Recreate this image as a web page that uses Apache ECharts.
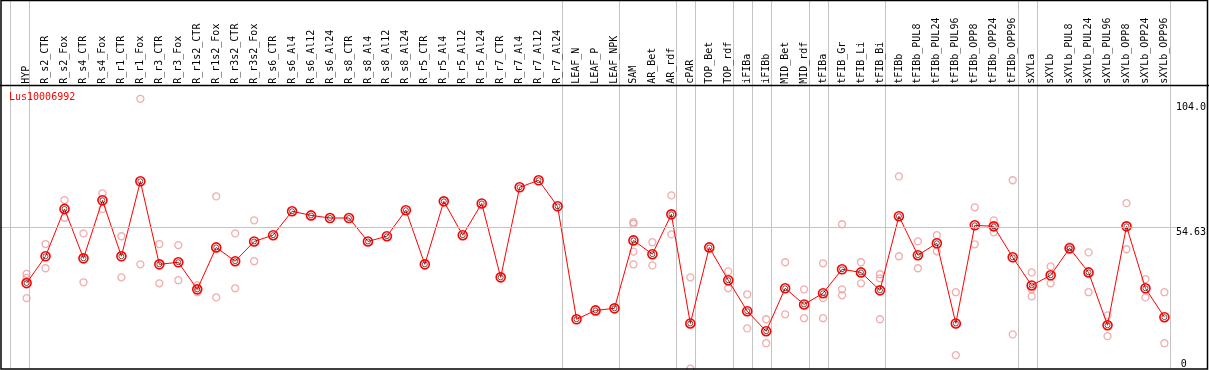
<!DOCTYPE html>
<html>
<head>
<meta charset="utf-8">
<script src="https://cdn.jsdelivr.net/npm/echarts@6/dist/echarts.min.js"></script>
<style>
html,body{margin:0;padding:0;background:#fff;}
#chart{width:1209px;height:370px;}
</style>
</head>
<body>
<div id="chart"></div>
<script>
const geneName = 'Lus10006992';
const categories = ['HYP','R_s2_CTR','R_s2_Fox','R_s4_CTR','R_s4_Fox','R_r1_CTR','R_r1_Fox','R_r3_CTR','R_r3_Fox','R_r1s2_CTR','R_r1s2_Fox','R_r3s2_CTR','R_r3s2_Fox','R_s6_CTR','R_s6_Al4','R_s6_Al12','R_s6_Al24','R_s8_CTR','R_s8_Al4','R_s8_Al12','R_s8_Al24','R_r5_CTR','R_r5_Al4','R_r5_Al12','R_r5_Al24','R_r7_CTR','R_r7_Al4','R_r7_Al12','R_r7_Al24','LEAF_N','LEAF_P','LEAF_NPK','SAM','AR_Bet','AR_rdf','cPAR','TOP_Bet','TOP_rdf','iFIBa','iFIBb','MID_Bet','MID_rdf','tFIBa','tFIB_Gr','tFIB_Li','tFIB_Bi','tFIBb','tFIBb_PUL8','tFIBb_PUL24','tFIBb_PUL96','tFIBb_OPP8','tFIBb_OPP24','tFIBb_OPP96','sXYLa','sXYLb','sXYLb_PUL8','sXYLb_PUL24','sXYLb_PUL96','sXYLb_OPP8','sXYLb_OPP24','sXYLb_OPP96'];
const meanValues = [33.2,43.5,61.7,42.7,65.0,43.5,72.3,40.4,41.2,30.8,46.9,41.6,49.2,51.6,60.8,59.2,58.2,58.2,49.2,51.2,61.2,40.4,64.6,51.6,63.8,35.4,70.0,72.7,62.7,19.3,22.7,23.5,49.6,44.3,59.6,17.7,46.9,34.3,22.4,14.7,31.2,25.0,29.3,38.5,37.3,30.4,58.9,43.9,48.5,17.7,55.4,55.0,43.1,32.3,36.2,46.6,37.3,17.0,55.0,31.2,20.1];
const replicateValues = [
  [36.7,35.2,27.4],[48.2,38.9],[65.1,58.3],[52.3,33.5],[67.7,61.7],[51.2,35.4],[104.0,40.4],[48.2,33.1],[47.8,34.3],[32.3,29.7],
  [66.5,27.7],[52.3,31.2],[57.3,41.6],[],[],[],[],[],[],[],
  [],[],[],[],[],[],[],[],[],[],
  [],[],[56.6,56.0,45.3,40.4],[48.9,40.0],[66.9,51.9],[35.4,0.3],[],[37.7,31.2],[28.9,15.8],[19.3,10.1],
  [41.2,21.2],[30.8,19.7],[40.8,27.4,19.7],[55.8,30.8,28.5],[41.2,33.1],[36.6,35.0,19.3],[74.2,43.5],[49.2,38.9],[51.6,45.4],[29.7,5.5],
  [62.3,48.1],[57.3,52.7],[72.7,13.5],[37.3,30.8,28.1],[39.6,33.1],[47.3,45.9],[45.0,29.7],[20.8,12.8],[63.9,46.2],[34.7,27.7],
  [29.7,10.1]
];
// group separators drawn just after these category indices (-1 = before the first)
const groupEndsAfter = [-1,0,28,31,34,35,37,38,39,41,42,45,52,53,60];
const yTicks = [0, 54.63, 104];
const yTickLabels = ['0', '54.63', '104.0'];
const referenceLine = 54.63;

const FONT = 'DejaVu Sans Mono';
const replicatePoints = [];
replicateValues.forEach((arr, i) => arr.forEach(v => replicatePoints.push([i, v])));

const gridLeft = 17.1, gridWidth = 1159.6, gridTop = 98.8, gridBottom = 0.5;
const band = gridWidth / categories.length;
const chart = echarts.init(document.getElementById('chart'));
const frame = [
  {type: 'rect', shape: {x: 1, y: 0.5, width: 1206.5, height: 368.5}, style: {fill: 'none', stroke: '#000', lineWidth: 1.5}, z: 100, silent: true},
  {type: 'line', shape: {x1: 0, y1: 85.5, x2: 1209, y2: 85.5}, style: {stroke: '#000', lineWidth: 1.5}, z: 100, silent: true}
];
chart.setOption({
  animation: false,
  backgroundColor: '#fff',
  title: {text: geneName, left: 4, top: 87, textStyle: {color: '#ff0000', fontSize: 10, fontWeight: 'normal', fontFamily: FONT}},
  grid: [
    {left: gridLeft, width: gridWidth, top: gridTop, bottom: gridBottom},
    {left: 0, width: gridLeft + gridWidth, top: 1, bottom: 1},
    {left: 0, width: gridLeft + gridWidth, top: gridTop, bottom: gridBottom}
  ],
  xAxis: [
    {type: 'category', gridIndex: 0, data: categories, position: 'top', offset: 13, boundaryGap: true,
     axisLine: {show: false}, axisTick: {show: false}, splitLine: {show: false},
     axisLabel: {rotate: 90, interval: 0, margin: 2, color: '#000', fontSize: 10, fontFamily: FONT}},
    {type: 'value', gridIndex: 1, min: -0.5 - gridLeft / band, max: categories.length - 0.5, show: false},
    {type: 'value', gridIndex: 2, min: 0, max: 1, show: false}
  ],
  yAxis: [
    {type: 'value', gridIndex: 0, min: 0, max: 104, position: 'right', splitLine: {show: false},
     axisLine: {show: false}, axisTick: {show: false},
     axisLabel: {customValues: yTicks.slice(1), margin: 2, verticalAlign: 'top', color: '#000', fontSize: 10, fontFamily: FONT,
       formatter: v => v === 104 ? '{d|' + yTickLabels[2] + '}' : yTickLabels[yTicks.indexOf(v)],
       rich: {d: {padding: [4, 0, 0, 0], fontSize: 10, fontFamily: FONT, color: '#000'}}}},
    {type: 'value', gridIndex: 1, min: 0, max: 1, show: false},
    {type: 'value', gridIndex: 2, min: 0, max: 104, position: 'right', splitLine: {show: false},
     axisLine: {show: false}, axisTick: {show: false},
     axisLabel: {customValues: yTicks.slice(0, 1), margin: 4, verticalAlign: 'bottom', color: '#000', fontSize: 10, fontFamily: FONT,
       formatter: v => yTickLabels[yTicks.indexOf(v)]}}
  ],
  graphic: frame,
  series: [
    {type: 'scatter', xAxisIndex: 1, yAxisIndex: 1, data: [], silent: true},
    {type: 'scatter', xAxisIndex: 2, yAxisIndex: 2, data: [], silent: true, z: 1,
     markLine: {silent: true, symbol: 'none', label: {show: false}, lineStyle: {color: '#c4c4c4', type: 'solid', width: 1},
       data: [{yAxis: referenceLine}]}},
    {type: 'scatter', xAxisIndex: 0, yAxisIndex: 0, data: replicatePoints, clip: false, z: 2,
     symbol: 'circle', symbolSize: 7,
     itemStyle: {color: 'rgba(0,0,0,0)', borderColor: '#eb9a9a', borderWidth: 1.3}},
    {type: 'line', xAxisIndex: 0, yAxisIndex: 0, data: meanValues, z: 3,
     symbol: 'circle', symbolSize: 9, showAllSymbol: true,
     lineStyle: {color: '#ff0000', width: 1},
     itemStyle: {color: 'rgba(0,0,0,0)', borderColor: '#ff0000', borderWidth: 1.6}},
    {type: 'scatter', xAxisIndex: 0, yAxisIndex: 0, data: meanValues, z: 4,
     symbol: 'circle', symbolSize: 5, silent: true,
     itemStyle: {color: 'rgba(0,0,0,0)', borderColor: '#000', borderWidth: 0.8}}
  ]
});
// group separators: positions from the overlay grid's value axis
const yTop = chart.convertToPixel({yAxisIndex: 1}, 1);
const yBot = chart.convertToPixel({yAxisIndex: 1}, 0);
const sepLines = groupEndsAfter.map(i => {
  const x = Math.round(chart.convertToPixel({xAxisIndex: 1}, i + 0.15)) + 0.5;
  return {type: 'line', shape: {x1: x, y1: yTop, x2: x, y2: yBot}, style: {stroke: '#c4c4c4', lineWidth: 1}, z: -10, silent: true};
});
chart.setOption({graphic: frame.concat(sepLines)}, {replaceMerge: ['graphic']});
</script>
</body>
</html>
